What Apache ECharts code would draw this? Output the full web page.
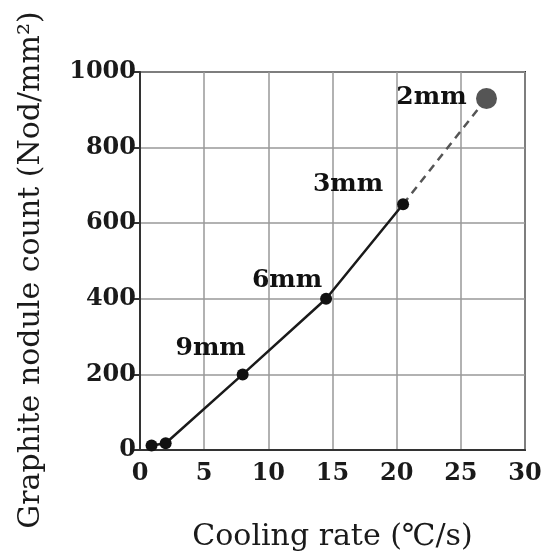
<!DOCTYPE html>
<html>
<head>
<meta charset="utf-8">
<script src="https://cdn.jsdelivr.net/npm/echarts@6/dist/echarts.min.js"></script>
<style>html,body{margin:0;padding:0;background:#fff;}#c{width:553px;height:557px;}</style>
</head>
<body>
<div id="c"></div>
<script>
const coolingRate = [0.9, 2, 8, 14.5, 20.5, 27];
const noduleCount = [12, 18, 200, 400, 650, 930];
const sizeLabels = ['', '', '9mm', '6mm', '3mm', '2mm'];
const xTicks = [0, 5, 10, 15, 20, 25, 30];
const yTicks = [0, 200, 400, 600, 800, 1000];
const xTitle = 'Cooling rate (℃/s)';
const yTitle = 'Graphite nodule count (Nod/mm²)';

const labelOffsets = [[0,0],[0,0],[-32,-26],[-39,-18],[-55,-20],[-55,-1]];
const FONT = 'DejaVu Serif';

const solidData = coolingRate.slice(0, 5).map((x, i) => [x, noduleCount[i]]);
const dashedData = coolingRate.slice(4).map((x, i) => [x, noduleCount[i + 4]]);
const pointData = coolingRate.map((x, i) => ({
  value: [x, noduleCount[i]],
  symbolSize: i === 5 ? 21 : 12,
  itemStyle: { color: i === 5 ? '#555' : '#111', opacity: 1 },
  label: { show: sizeLabels[i] !== '', formatter: sizeLabels[i], position: 'inside', offset: labelOffsets[i],
           color: '#111', opacity: 1, fontFamily: FONT, fontSize: 25, fontWeight: 'bold' }
}));

const chart = echarts.init(document.getElementById('c'));
chart.setOption({
  animation: false,
  backgroundColor: '#fff',
  grid: { left: 140, right: 28, top: 72, bottom: 104, show: true, borderColor: '#333', borderWidth: 2 },
  xAxis: {
    type: 'value', min: xTicks[0], max: xTicks[xTicks.length - 1], interval: 5,
    name: xTitle, nameLocation: 'middle', nameGap: 72,
    nameTextStyle: { fontFamily: FONT, fontSize: 30, color: '#1a1a1a' },
    axisLine: { show: true, lineStyle: { color: '#333', width: 2 } },
    axisTick: { show: false },
    axisLabel: { fontFamily: FONT, fontSize: 24, fontWeight: 'bold', color: '#1a1a1a', margin: 12 },
    splitLine: { show: true, lineStyle: { color: '#999', width: 1.5 } }
  },
  yAxis: {
    type: 'value', min: yTicks[0], max: yTicks[yTicks.length - 1], interval: 200,
    axisLine: { show: true, lineStyle: { color: '#333', width: 2 } },
    axisTick: { show: true, inside: false, length: 6, lineStyle: { color: '#333', width: 2 } },
    axisLabel: { fontFamily: FONT, fontSize: 24, fontWeight: 'bold', color: '#1a1a1a', margin: 4,
                 formatter: v => String(v) },
    splitLine: { show: true, lineStyle: { color: '#999', width: 1.5 } }
  },
  graphic: [{
    type: 'text', x: 31, y: 270, rotation: Math.PI / 2,
    style: { text: yTitle, fontFamily: FONT, fontSize: 30, fill: '#1a1a1a', align: 'center', verticalAlign: 'middle' }
  }],
  series: [
    { type: 'line', data: solidData, smooth: false, symbol: 'none', lineStyle: { color: '#1a1a1a', width: 2.5 }, z: 2 },
    { type: 'line', data: dashedData, symbol: 'none', lineStyle: { color: '#555', width: 2.5, type: [8, 6] }, z: 2 },
    { type: 'scatter', data: pointData, z: 3 }
  ]
});
</script>
</body>
</html>
